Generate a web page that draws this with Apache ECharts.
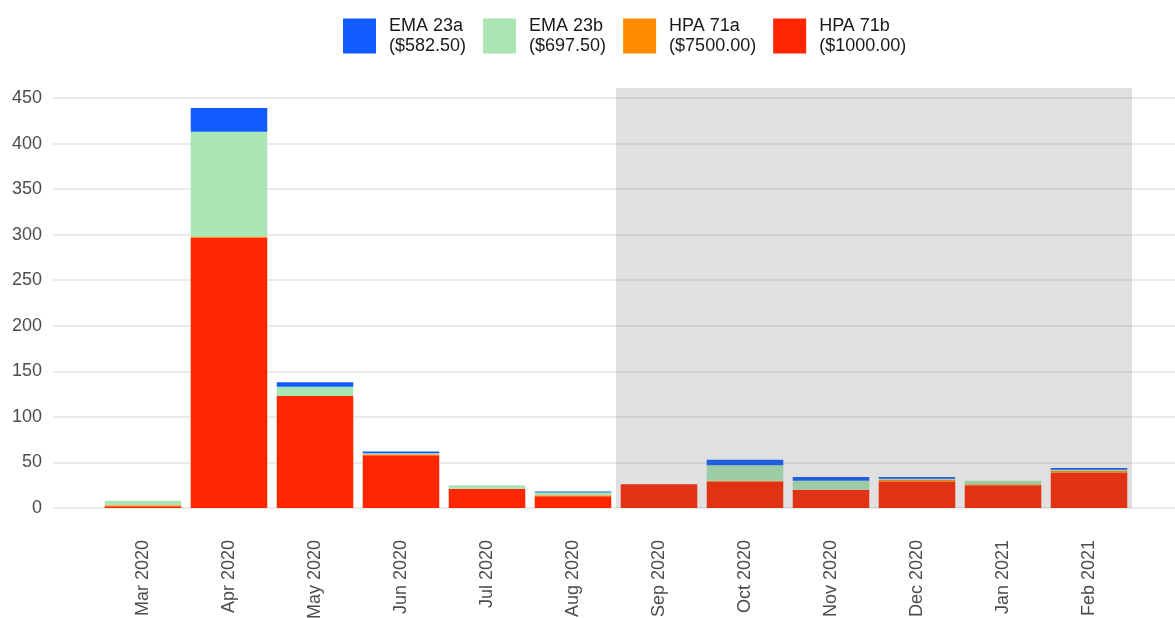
<!DOCTYPE html>
<html>
<head>
<meta charset="utf-8">
<script src="https://cdn.jsdelivr.net/npm/echarts@6/dist/echarts.min.js"></script>
<style>
  html, body { margin: 0; padding: 0; background: #fff; }
  #chart { width: 1175px; height: 618px; }
</style>
</head>
<body>
<div id="chart"></div>
<script>
// months on the x axis
const months = ['Mar 2020', 'Apr 2020', 'May 2020', 'Jun 2020', 'Jul 2020', 'Aug 2020',
  'Sep 2020', 'Oct 2020', 'Nov 2020', 'Dec 2020', 'Jan 2021', 'Feb 2021'];

// stacked counts, bottom to top
const hpa71b = [2, 297, 123, 58, 21, 13, 26, 29, 20, 29, 25, 39];
const hpa71a = [1, 1, 0, 1, 0, 1, 0, 1, 0, 2, 1, 2];
const ema23b = [5, 115, 10, 1, 4, 3, 0, 17, 10, 1, 4, 1];
const ema23a = [0, 26, 5, 2, 0, 1, 0, 6, 4, 2, 0, 2];

const names = ['EMA 23a', 'EMA 23b', 'HPA 71a', 'HPA 71b'];
const prices = ['$582.50', '$697.50', '$7500.00', '$1000.00'];
const colors = ['#105cff', '#aae6b4', '#ff8c00', '#ff2600'];

const yTicks = [0, 450, 50];       // min, max, step
const shadeFirst = 'Sep 2020';     // shaded period starts here, runs to the end

const chart = echarts.init(document.getElementById('chart'));
const font = 'Liberation Sans, Arial, sans-serif';

// top of the shaded box sits a bit above the 450 line
const yTop = 461;
const shadeFrom = months.indexOf(shadeFirst) - 0.5;
const shadeTo = months.length - 0.5;

function barSeries(name, data) {
  return {
    name: name,
    type: 'bar',
    stack: 'total',
    xAxisIndex: 1,
    yAxisIndex: 1,
    barCategoryGap: '11%',
    itemStyle: { color: colors[names.indexOf(name)] },
    emphasis: { disabled: true },
    data: data
  };
}

const option = {
  backgroundColor: '#fff',
  animation: false,
  textStyle: { fontFamily: font },
  legend: {
    data: names,
    left: 338,
    top: 11,
    icon: 'rect',
    itemWidth: 33,
    itemHeight: 35,
    itemGap: 17,
    selectedMode: false,
    formatter: function (n) {
      return n + '\n(' + prices[names.indexOf(n)] + ')';
    },
    textStyle: { fontSize: 18, lineHeight: 20, color: '#1a1a1a', padding: [0, 0, 0, 8], fontFamily: font }
  },
  grid: [
    { left: 53, right: 0, top: 98, bottom: 110, outerBoundsMode: 'none' },
    { left: 100, right: 43, top: 88, bottom: 110, outerBoundsMode: 'none' }
  ],
  xAxis: [
    { gridIndex: 0, type: 'value', show: false, min: 0, max: 1 },
    {
      gridIndex: 1,
      type: 'category',
      data: months,
      axisLine: { show: false },
      axisTick: { show: false },
      axisLabel: { rotate: 90, margin: 32, fontSize: 18, color: '#4d4d4d', fontFamily: font, interval: 0 }
    },
    { gridIndex: 1, type: 'value', show: false, min: -0.5, max: months.length - 0.5 }
  ],
  yAxis: [
    {
      gridIndex: 0,
      type: 'value',
      min: yTicks[0],
      max: yTicks[1],
      interval: yTicks[2],
      axisLine: { show: false },
      axisTick: { show: false },
      axisLabel: { margin: 11, fontSize: 18, color: '#4d4d4d', fontFamily: font },
      splitLine: { lineStyle: { color: '#ebebeb', width: 2 } }
    },
    { gridIndex: 1, type: 'value', show: false, min: 0, max: yTop }
  ],
  series: [
    barSeries('HPA 71b', hpa71b),
    barSeries('HPA 71a', hpa71a),
    barSeries('EMA 23b', ema23b),
    barSeries('EMA 23a', ema23a),
    {
      type: 'line',
      xAxisIndex: 2,
      yAxisIndex: 1,
      z: 10,
      data: [],
      markArea: {
        silent: true,
        z: 10,
        itemStyle: { color: 'rgba(100,100,100,0.2)' },
        data: [[{ xAxis: shadeFrom, yAxis: 0 }, { xAxis: shadeTo, yAxis: yTop }]]
      }
    }
  ]
};

chart.setOption(option);
</script>
</body>
</html>
